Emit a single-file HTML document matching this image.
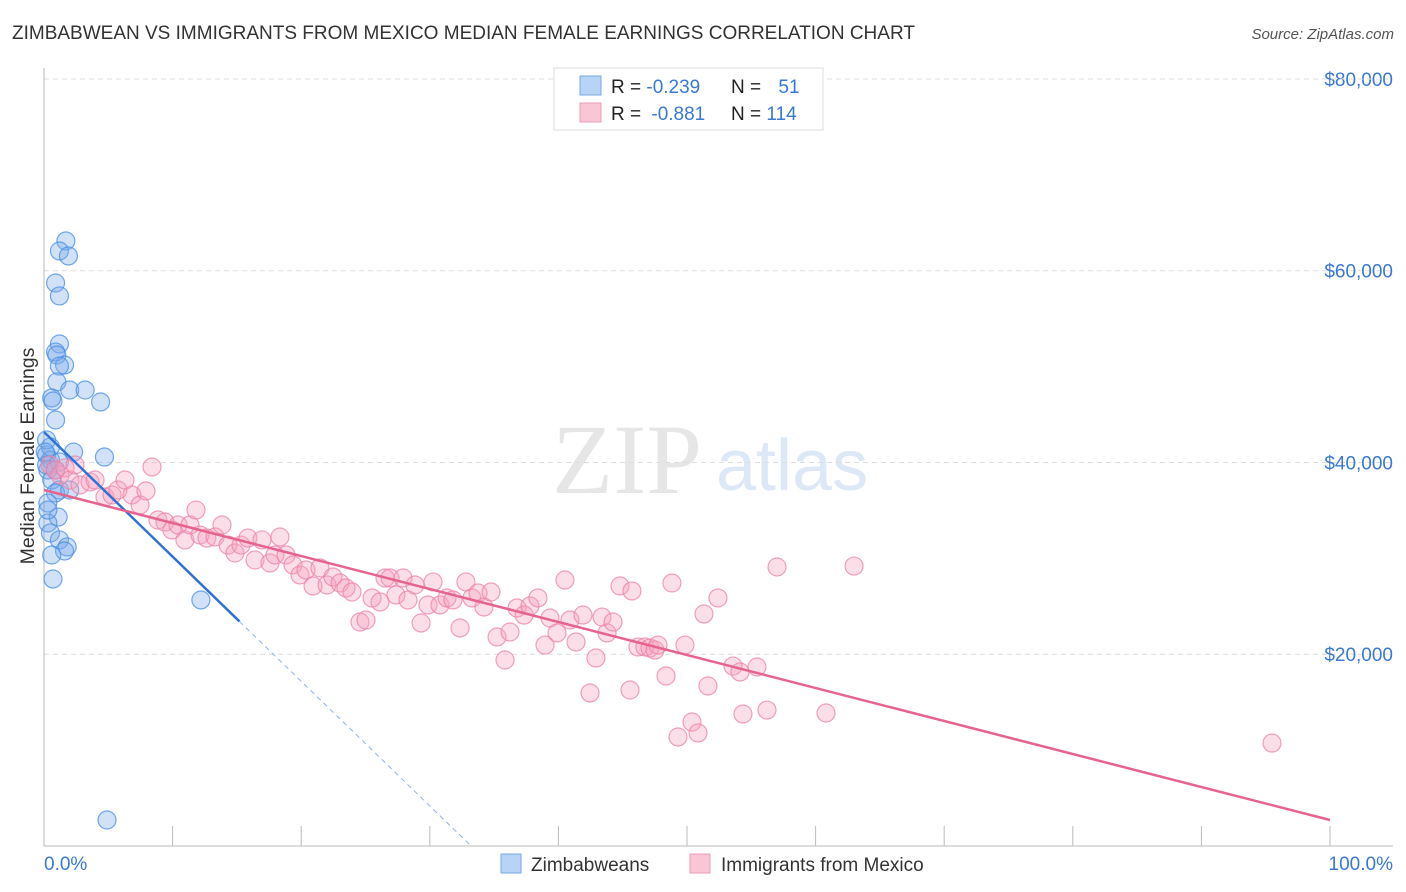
<!DOCTYPE html>
<html><head><meta charset="utf-8"><style>
body{margin:0;background:#fff;font-family:"Liberation Sans",sans-serif;}
svg{display:block}
</style></head><body>
<svg id="chart" width="1406" height="892" xmlns="http://www.w3.org/2000/svg" font-family="Liberation Sans, sans-serif">
<text x="12" y="39" font-size="19" fill="#333">ZIMBABWEAN VS IMMIGRANTS FROM MEXICO MEDIAN FEMALE EARNINGS CORRELATION CHART</text>
<text x="1394" y="39" font-size="15" fill="#555" text-anchor="end" font-style="italic">Source: ZipAtlas.com</text>
<g opacity="0.5">
<text x="552" y="493" font-size="100" font-family="Liberation Serif, serif" fill="#cfcfcf">ZIP</text>
<text x="716" y="490" font-size="72" fill="#bcd3ee">atlas</text>
</g>
<g id="grid"></g>
<g id="axes"></g>
<g id="marks"></g>
<text transform="translate(34,456) rotate(-90)" font-size="19.5" fill="#333" text-anchor="middle">Median Female Earnings</text>
<g>
<rect x="554" y="68" width="269" height="62" fill="#fff" stroke="#ddd"/>
<rect x="580" y="76" width="21" height="19" fill="#b7d3f6" stroke="#7aaae6"/>
<rect x="580" y="103" width="21" height="19" fill="#f9c6d6" stroke="#ee9db9"/>
<text x="611" y="93" font-size="19" fill="#222">R = <tspan fill="#3a78d4">-0.239</tspan></text>
<text x="731" y="93" font-size="19" fill="#222">N = <tspan fill="#3a78d4" dx="12">51</tspan></text>
<text x="611" y="120" font-size="19" fill="#222">R = <tspan fill="#3a78d4" dx="5">-0.881</tspan></text>
<text x="731" y="120" font-size="19" fill="#222">N = <tspan fill="#3a78d4">114</tspan></text>
</g>
<g>
<rect x="501" y="854" width="20" height="19" fill="#b7d3f6" stroke="#7aaae6"/>
<text x="531" y="871" font-size="19" fill="#333">Zimbabweans</text>
<rect x="690" y="854" width="20" height="19" fill="#f9c6d6" stroke="#ee9db9"/>
<text x="721" y="871" font-size="19" fill="#333">Immigrants from Mexico</text>
</g>
</svg>
<script>
const blueX=[1.7,1.2,1.9,0.9,1.2,1.2,0.9,1.0,1.6,1.2,1.0,2.0,3.2,4.4,0.6,0.7,0.9,2.3,4.7,0.2,0.5,0.3,0.6,1.2,0.9,2.0,0.3,1.1,0.3,0.5,1.2,1.8,1.6,0.6,0.7,12.2,4.9,0.2,0.2,0.5,0.1,0.3,1.2,0.9];
const blueY=[63100,62060,61540,58720,57370,52360,51520,51210,50170,50060,48400,47560,47560,46310,46730,46410,44430,41090,40570,40780,40260,39220,38170,37130,36820,37130,35770,34310,33690,32650,31920,31190,30770,30350,27850,25660,2710,42350,39740,41620,41090,35040,40050,39220];
const pinkX=[0.47,0.86,1.24,1.63,2.02,2.41,2.80,3.58,3.97,4.74,5.29,5.75,6.30,6.84,7.47,7.93,8.40,8.86,9.41,9.95,10.42,10.96,11.35,11.82,12.13,12.67,13.30,13.84,14.31,14.85,15.32,15.86,16.41,16.95,17.57,17.96,18.35,18.82,19.36,19.91,20.37,20.92,21.46,22.01,22.47,23.02,23.48,23.95,24.57,25.04,25.51,26.13,26.52,26.91,27.37,27.92,28.30,28.85,29.32,29.86,30.25,30.79,31.34,31.80,32.35,32.81,33.28,33.75,34.21,34.76,35.23,35.85,36.24,36.78,37.33,37.79,38.41,38.96,39.35,39.89,40.51,40.90,41.37,41.91,42.46,42.92,43.39,43.78,44.25,44.79,45.57,45.72,46.19,46.73,47.12,47.51,47.74,48.37,48.83,49.30,49.84,50.39,50.86,51.32,51.63,52.41,53.58,54.12,54.35,55.44,56.22,57.00,60.81,62.99,95.49];
const pinkY=[39740,39220,38700,39430,38170,39740,37650,37970,38170,36400,36610,37130,38170,36610,35570,37030,39530,34000,33790,32960,33480,31920,33480,35040,32440,32120,32230,33480,31390,30560,31390,32120,29830,31920,29520,30350,32230,30350,29310,28270,28790,27120,29000,27220,28060,27430,26910,26490,23360,23570,25870,25450,27950,27950,26180,27950,25660,27220,23260,25140,27540,25140,25870,25660,22740,27540,25870,26390,24930,26490,21800,19400,22320,24820,24090,25030,25870,20960,23780,22220,27740,23570,21280,24090,15960,19610,23880,22220,23360,27120,16270,26600,20760,20760,20650,20440,20960,17730,27430,11370,20960,12930,11790,24200,16690,25870,18770,18150,13770,18670,14180,29100,13870,29200,10740];
const yTicks=[20000,40000,60000,80000];
const yTickLabels=["$20,000","$40,000","$60,000","$80,000"];
const xTickLabels=["0.0%","100.0%"];
const blueFit=[43180,-1300,15.2,33.2];
const pinkFit=[37130,-344.2,100];
const X=p=>44+p*12.86, Y=v=>846-v/104.3;
const NS="http://www.w3.org/2000/svg";
function mk(t,a,parent){const e=document.createElementNS(NS,t);for(const k in a)e.setAttribute(k,a[k]);document.getElementById(parent).appendChild(e);return e;}
yTicks.forEach((v,i)=>{
 const l=mk('line',{x1:44,x2:1393,y1:Y(v),y2:Y(v),stroke:'#ddd','stroke-dasharray':'5,4'},'grid');
 
 
 const t=mk('text',{x:1393,y:Y(v)+7,'font-size':19,fill:'#3a78d4','text-anchor':'end'},'grid');
 t.textContent=yTickLabels[i];
 
 
});
const topGrid=mk('line',{x1:44,x2:1393,y1:79,y2:79,stroke:'#ddd','stroke-dasharray':'5,4'},'grid');


const ya=mk('line',{x1:44,x2:44,y1:68,y2:846,stroke:'#bbb'},'axes');


const xa=mk('line',{x1:44,x2:1393,y1:846,y2:846,stroke:'#bbb'},'axes');


for(let i=0;i<=10;i++){
 const t=mk('line',{x1:X(i*10),x2:X(i*10),y1:826,y2:846,stroke:'#bbb'},'axes');
 
 
}
const xl0=mk('text',{x:44,y:870,'font-size':19,fill:'#3a78d4'},'axes');
xl0.textContent=xTickLabels[0];


const xl1=mk('text',{x:1393,y:870,'font-size':19,fill:'#3a78d4','text-anchor':'end'},'axes');
xl1.textContent=xTickLabels[1];


blueX.forEach((x,i)=>{
 const c=mk('circle',{cx:X(x),cy:Y(blueY[i]),r:9,fill:'rgba(120,170,235,0.35)',stroke:'rgba(70,140,225,0.75)','stroke-width':1.2},'marks');
 
 
});
pinkX.forEach((x,i)=>{
 const c=mk('circle',{cx:X(x),cy:Y(pinkY[i]),r:9,fill:'rgba(245,160,190,0.35)',stroke:'rgba(235,130,170,0.75)','stroke-width':1.2},'marks');
 
 
});
const bs=mk('line',{x1:X(0),y1:Y(blueFit[0]),x2:X(blueFit[2]),y2:Y(blueFit[0]+blueFit[1]*blueFit[2]),stroke:'#2f72d6','stroke-width':2.5},'marks');


const bd=mk('line',{x1:X(blueFit[2]),y1:Y(blueFit[0]+blueFit[1]*blueFit[2]),x2:X(blueFit[3]),y2:Y(blueFit[0]+blueFit[1]*blueFit[3]),stroke:'#8fb3e6','stroke-width':1,'stroke-dasharray':'5,4'},'marks');


const pl=mk('line',{x1:X(0),y1:Y(pinkFit[0]),x2:X(pinkFit[2]),y2:Y(pinkFit[0]+pinkFit[1]*pinkFit[2]),stroke:'#e6638f','stroke-width':2.5},'marks');


</script>
</body></html>
